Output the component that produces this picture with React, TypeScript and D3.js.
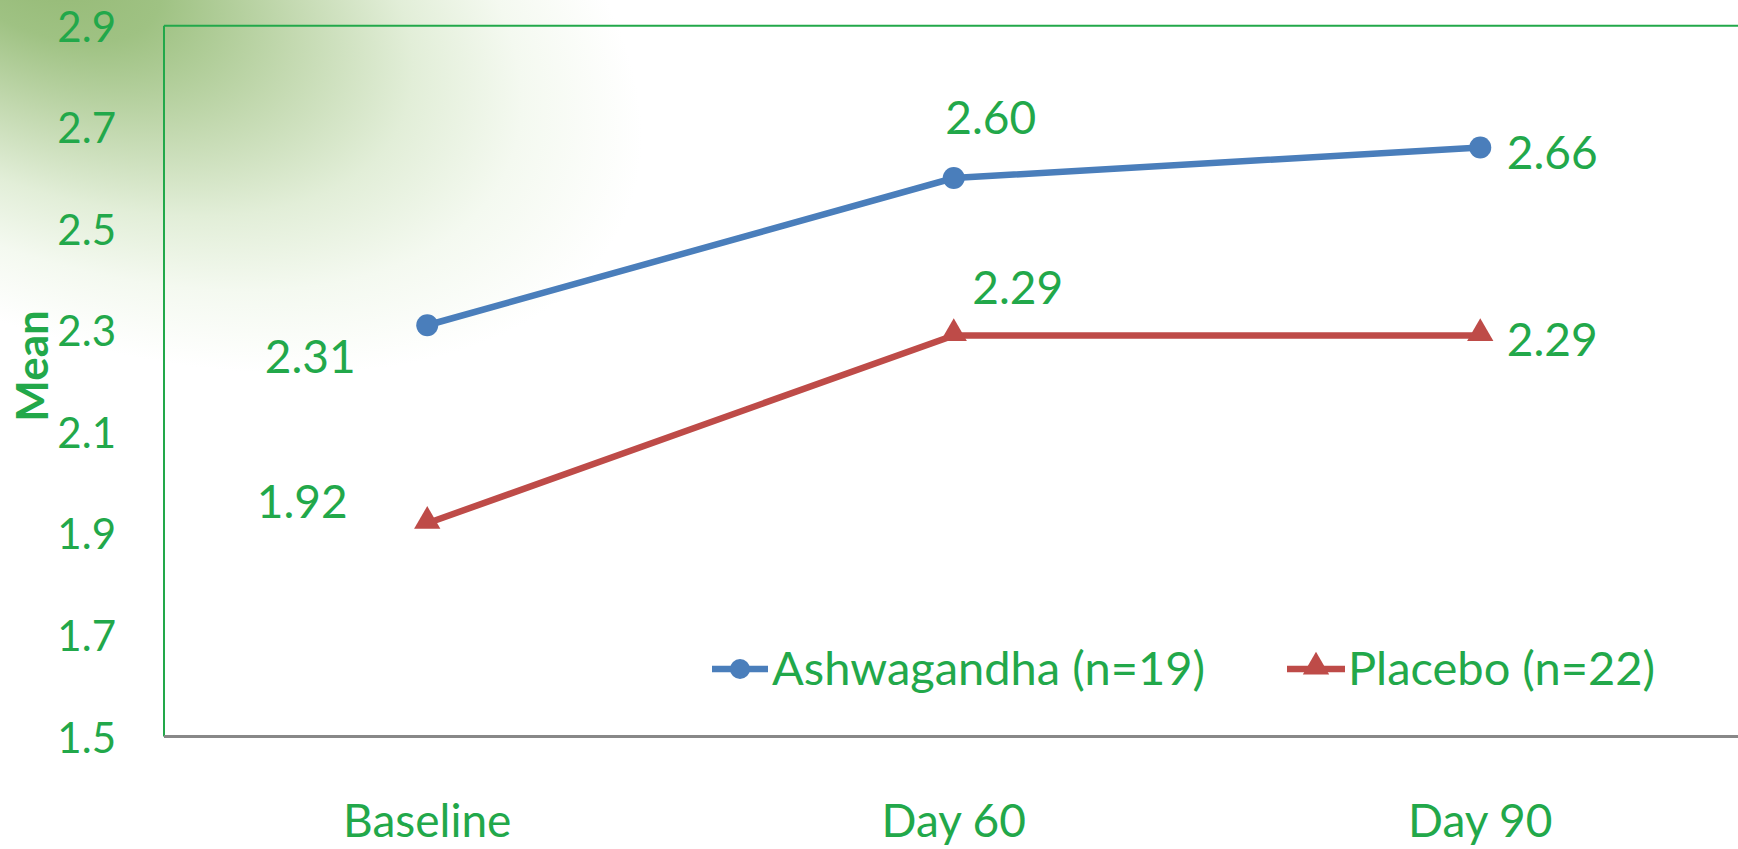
import * as d3 from "d3";

const categories = ["Baseline", "Day 60", "Day 90"];
const ashwagandha = [2.31, 2.6, 2.66];
const placebo = [1.92, 2.29, 2.29];
const yTicks = [1.5, 1.7, 1.9, 2.1, 2.3, 2.5, 2.7, 2.9];
const seriesNames = ["Ashwagandha (n=19)", "Placebo (n=22)"];

const WIDTH = 1738;
const HEIGHT = 849;
const GREEN = "#22a84a";
const BLUE = "#4a7ebb";
const RED = "#be4b48";
const FONT = "Lato, 'Open Sans', sans-serif";

// where each value label sits relative to its point
const blueLabelOffsets = [
  [-117, 30],
  [37, -62],
  [72, 4],
];
const redLabelOffsets = [
  [-125, -23],
  [64, -49],
  [72, 3],
];

export default function App() {
  const left = 164;
  const top = 25.7;
  const bottom = 736.5;
  const right = 1743.5;

  const x = d3.scaleBand().domain(categories).range([left, right]);
  const y = d3.scaleLinear().domain([1.5, 2.9]).range([bottom, top]);
  const cx = (c: string) => (x(c) ?? 0) + x.bandwidth() / 2;

  const line = d3
    .line<number>()
    .x((_, i) => cx(categories[i]))
    .y((d) => y(d));

  const tri = d3.symbol().type(d3.symbolTriangle).size(300)();
  const fmt = d3.format(".2f");

  return (
    <svg
      width={WIDTH}
      height={HEIGHT}
      style={{ position: "absolute", left: 0, top: 0 }}
      fontFamily={FONT}
    >
      <defs>
        <radialGradient
          id="bg"
          gradientUnits="userSpaceOnUse"
          cx={40}
          cy={-40}
          r={640}
          gradientTransform="translate(40,-40) rotate(24) scale(1,0.55) translate(-40,40)"
        >
          <stop offset="0" stopColor="#93b873" />
          <stop offset="0.2" stopColor="#9fc283" />
          <stop offset="0.42" stopColor="#c3d9b0" />
          <stop offset="0.62" stopColor="#e2eed8" />
          <stop offset="0.8" stopColor="#f4f9f0" />
          <stop offset="1" stopColor="#ffffff" />
        </radialGradient>
      </defs>
      <rect width={WIDTH} height={HEIGHT} fill="#fff" />
      <rect width={WIDTH} height={HEIGHT} fill="url(#bg)" />

      {/* plot frame */}
      <line x1={left} x2={left} y1={top} y2={bottom} stroke={GREEN} strokeWidth={2} />
      <line x1={left} x2={right} y1={top} y2={top} stroke={GREEN} strokeWidth={2} />
      <line x1={left} x2={right} y1={bottom} y2={bottom} stroke="#888" strokeWidth={3} />

      {yTicks.map((t) => (
        <text
          key={t}
          x={116}
          y={y(t)}
          textAnchor="end"
          dominantBaseline="central"
          fontSize={42}
          fill={GREEN}
        >
          {t.toFixed(1)}
        </text>
      ))}

      <text
        transform="translate(48,366) rotate(-90)"
        textAnchor="middle"
        fontSize={44}
        fontWeight="bold"
        fill={GREEN}
      >
        Mean
      </text>

      {categories.map((c) => (
        <text key={c} x={cx(c)} y={837} textAnchor="middle" fontSize={46} fill={GREEN}>
          {c}
        </text>
      ))}

      <path d={line(ashwagandha) ?? ""} fill="none" stroke={BLUE} strokeWidth={6.5} />
      <path d={line(placebo) ?? ""} fill="none" stroke={RED} strokeWidth={6.5} />

      {ashwagandha.map((v, i) => (
        <circle key={"a" + i} cx={cx(categories[i])} cy={y(v)} r={11} fill={BLUE} />
      ))}
      {placebo.map((v, i) => (
        <path
          key={"p" + i}
          d={tri ?? ""}
          transform={`translate(${cx(categories[i])},${y(v) - 2})`}
          fill={RED}
        />
      ))}

      {ashwagandha.map((v, i) => (
        <text
          key={"al" + i}
          x={cx(categories[i]) + blueLabelOffsets[i][0]}
          y={y(v) + blueLabelOffsets[i][1]}
          textAnchor="middle"
          dominantBaseline="central"
          fontSize={46}
          fill={GREEN}
        >
          {fmt(v)}
        </text>
      ))}
      {placebo.map((v, i) => (
        <text
          key={"pl" + i}
          x={cx(categories[i]) + redLabelOffsets[i][0]}
          y={y(v) + redLabelOffsets[i][1]}
          textAnchor="middle"
          dominantBaseline="central"
          fontSize={46}
          fill={GREEN}
        >
          {fmt(v)}
        </text>
      ))}

      {/* legend */}
      <g transform="translate(712,669)">
        <line x1={0} x2={56} stroke={BLUE} strokeWidth={6.5} />
        <circle cx={28} r={10} fill={BLUE} />
        <text x={60} y={16} fontSize={47} fill={GREEN}>
          {seriesNames[0]}
        </text>
      </g>
      <g transform="translate(1287,669)">
        <line x1={0} x2={58} stroke={RED} strokeWidth={6.5} />
        <path d={tri ?? ""} transform="translate(29,-2)" fill={RED} />
        <text x={61} y={16} fontSize={47} fill={GREEN}>
          {seriesNames[1]}
        </text>
      </g>
    </svg>
  );
}
